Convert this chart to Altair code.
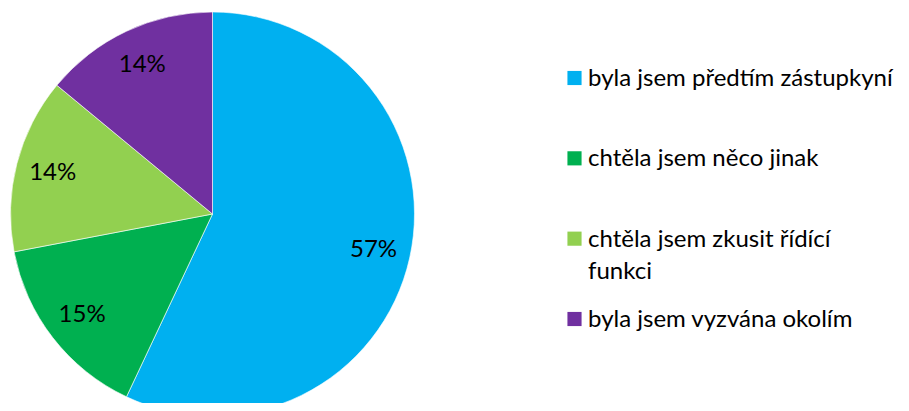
import altair as alt
import pandas as pd

labels = ["byla jsem předtím zástupkyní", "chtěla jsem něco jinak",
          "chtěla jsem zkusit řídící funkci", "byla jsem vyzvána okolím"]
legend_text = ["byla jsem předtím zástupkyní", "chtěla jsem něco jinak",
               "chtěla jsem zkusit řídící\nfunkci", "byla jsem vyzvána okolím"]
values = [57, 15, 14, 14]
pct_labels = ["57%", "15%", "14%", "14%"]
colors = ["#00B0F0", "#00B050", "#92D050", "#7030A0"]

df = pd.DataFrame({
    "label": labels,
    "legend": legend_text,
    "value": values,
    "order": list(range(len(labels))),
    "pct": pct_labels,
})

W, H = 893, 395
cx, cy = 204.5, 206
FONT = "Lato"

base = alt.Chart(df)
color = alt.Color("label:N", scale=alt.Scale(domain=labels, range=colors), legend=None)

pie = base.mark_arc(radius=202, stroke="white", strokeWidth=0.6).encode(
    theta=alt.Theta("value:Q", stack=True),
    order=alt.Order("order:Q"),
    color=color,
    x=alt.value(cx), y=alt.value(cy),
)

pct = base.mark_text(radius=165, font=FONT, fontSize=24, color="black").encode(
    theta=alt.Theta("value:Q", stack=True),
    order=alt.Order("order:Q"),
    text="pct:N",
    x=alt.value(cx), y=alt.value(cy),
)

ypos = alt.Y("label:N", sort=labels, axis=None,
             scale=alt.Scale(domain=labels, range=[70, 311], padding=0))

leg_sq = base.mark_square(size=200, opacity=1).encode(
    x=alt.value(566.5), y=ypos, color=color,
)

leg_txt = base.mark_text(align="left", baseline="alphabetic", dy=8, font=FONT,
                         fontSize=24, lineBreak="\n", lineHeight=32, color="black").encode(
    x=alt.value(580), y=ypos, text="legend:N",
)

chart = alt.layer(pie, pct, leg_sq, leg_txt).properties(
    width=W, height=H, padding=0, autosize="none"
).configure_view(stroke=None)

chart.save("out.html", embed_options={"renderer": "svg", "actions": False})
